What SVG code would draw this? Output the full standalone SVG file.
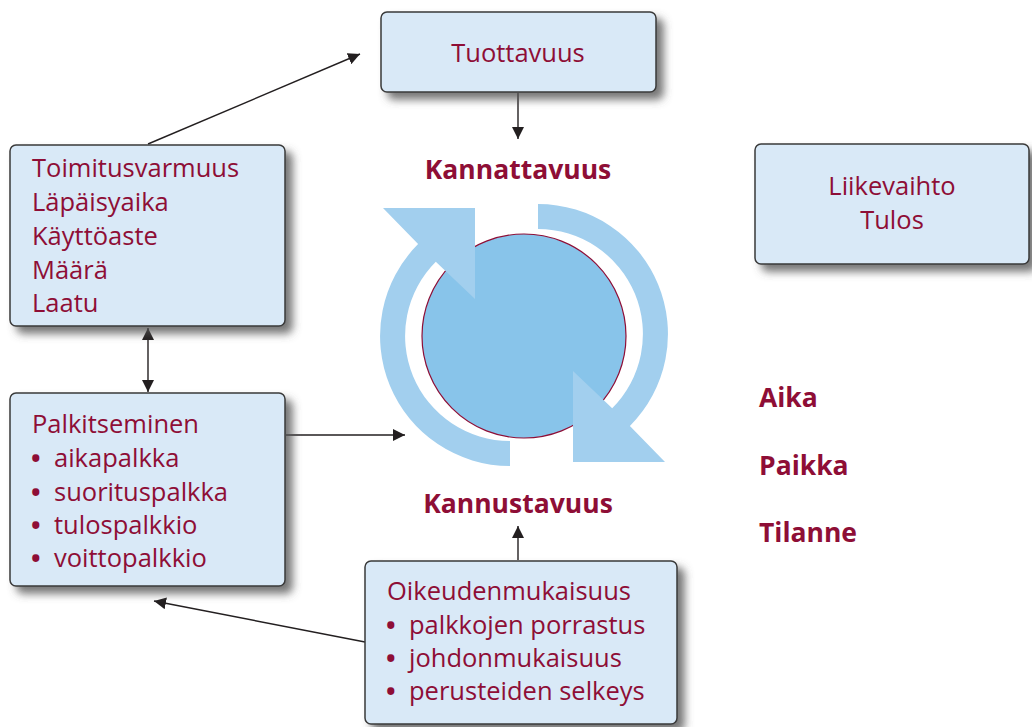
<svg xmlns="http://www.w3.org/2000/svg" width="1032" height="727" viewBox="0 0 1032 727">
<defs>
<filter id="sh" x="-10%" y="-10%" width="130%" height="140%">
<feDropShadow dx="7" dy="7" stdDeviation="4" flood-color="#555" flood-opacity="0.8"/>
</filter>
<marker id="ah" viewBox="0 0 12 12" refX="12" refY="6" markerWidth="12" markerHeight="12" markerUnits="userSpaceOnUse" orient="auto-start-reverse">
<path d="M0,0 L12,6 L0,12 Z" fill="#231f20"/>
</marker>
</defs>
<style>
.box{fill:#d9e9f7;stroke:#3a3a3a;stroke-width:1.5;filter:url(#sh)}
.t{font-family:"Open Sans","Noto Sans","Liberation Sans",sans-serif;font-size:25.5px;fill:#8e0e36}
.bu{font-weight:bold}
.b{font-family:"Open Sans","Noto Sans","Liberation Sans",sans-serif;font-size:26.5px;font-weight:bold;fill:#8e0e36}
.c{stroke:#231f20;stroke-width:1.4;fill:none}
.arc{fill:#a2cfee}
</style>
<rect width="1032" height="727" fill="#ffffff"/>

<g id="cycle">
<circle cx="524" cy="336" r="102" fill="#88c4ea" stroke="#8e0e36" stroke-width="1.2"/>
<path class="arc" d="M510,466 A130,130 0 0 1 418.1,244.1 L383,208 L475,208 L475,299 L435.8,261.8 A105,105 0 0 0 510,441 Z"/>
<path class="arc" d="M538,204 A130,130 0 0 1 629.9,425.9 L665,462 L573,462 L573,371 L612.2,408.2 A105,105 0 0 0 538,229 Z"/>
</g>

<g id="connectors">
<line class="c" x1="148" y1="144" x2="360" y2="54" marker-end="url(#ah)"/>
<line class="c" x1="148" y1="328" x2="148" y2="392" marker-start="url(#ah)" marker-end="url(#ah)"/>
<line class="c" x1="286" y1="435" x2="405" y2="435" marker-end="url(#ah)"/>
<line class="c" x1="365" y1="642" x2="154" y2="601" marker-end="url(#ah)"/>
<line class="c" x1="518" y1="93" x2="518" y2="139" marker-end="url(#ah)"/>
<line class="c" x1="518" y1="560" x2="518" y2="526" marker-end="url(#ah)"/>
</g>

<g id="tuottavuus">
<rect class="box" x="381" y="12" width="275" height="80" rx="6"/>
<text class="t" x="518" y="62" text-anchor="middle">Tuottavuus</text>
</g>

<g id="liikevaihto">
<rect class="box" x="755" y="144" width="274" height="120" rx="6"/>
<text class="t" x="892" y="195" text-anchor="middle">Liikevaihto</text>
<text class="t" x="892" y="229" text-anchor="middle">Tulos</text>
</g>

<g id="toimitusvarmuus">
<rect class="box" x="10" y="145" width="275" height="181" rx="6"/>
<text class="t" x="32" y="177">Toimitusvarmuus</text>
<text class="t" x="32" y="211">Läpäisyaika</text>
<text class="t" x="32" y="245">Käyttöaste</text>
<text class="t" x="32" y="279">Määrä</text>
<text class="t" x="32" y="312">Laatu</text>
</g>

<g id="palkitseminen">
<rect class="box" x="10" y="393" width="275" height="193" rx="6"/>
<text class="t" x="32" y="433">Palkitseminen</text>
<text class="t" x="31" y="467"><tspan class="bu">•</tspan><tspan x="54">aikapalkka</tspan></text>
<text class="t" x="31" y="501"><tspan class="bu">•</tspan><tspan x="54">suorituspalkka</tspan></text>
<text class="t" x="31" y="534"><tspan class="bu">•</tspan><tspan x="54">tulospalkkio</tspan></text>
<text class="t" x="31" y="567"><tspan class="bu">•</tspan><tspan x="54">voittopalkkio</tspan></text>
</g>

<g id="oikeudenmukaisuus">
<rect class="box" x="365" y="561" width="312" height="163" rx="6"/>
<text class="t" x="387" y="600">Oikeudenmukaisuus</text>
<text class="t" x="386" y="634"><tspan class="bu">•</tspan><tspan x="409">palkkojen porrastus</tspan></text>
<text class="t" x="386" y="667"><tspan class="bu">•</tspan><tspan x="409">johdonmukaisuus</tspan></text>
<text class="t" x="386" y="700"><tspan class="bu">•</tspan><tspan x="409">perusteiden selkeys</tspan></text>
</g>

<g id="kannattavuus"><text class="b" x="518" y="179" text-anchor="middle">Kannattavuus</text></g>
<g id="kannustavuus"><text class="b" x="518" y="513" text-anchor="middle">Kannustavuus</text></g>
<g id="aika"><text class="b" x="759" y="407">Aika</text></g>
<g id="paikka"><text class="b" x="759" y="475">Paikka</text></g>
<g id="tilanne"><text class="b" x="759" y="542">Tilanne</text></g>
</svg>
